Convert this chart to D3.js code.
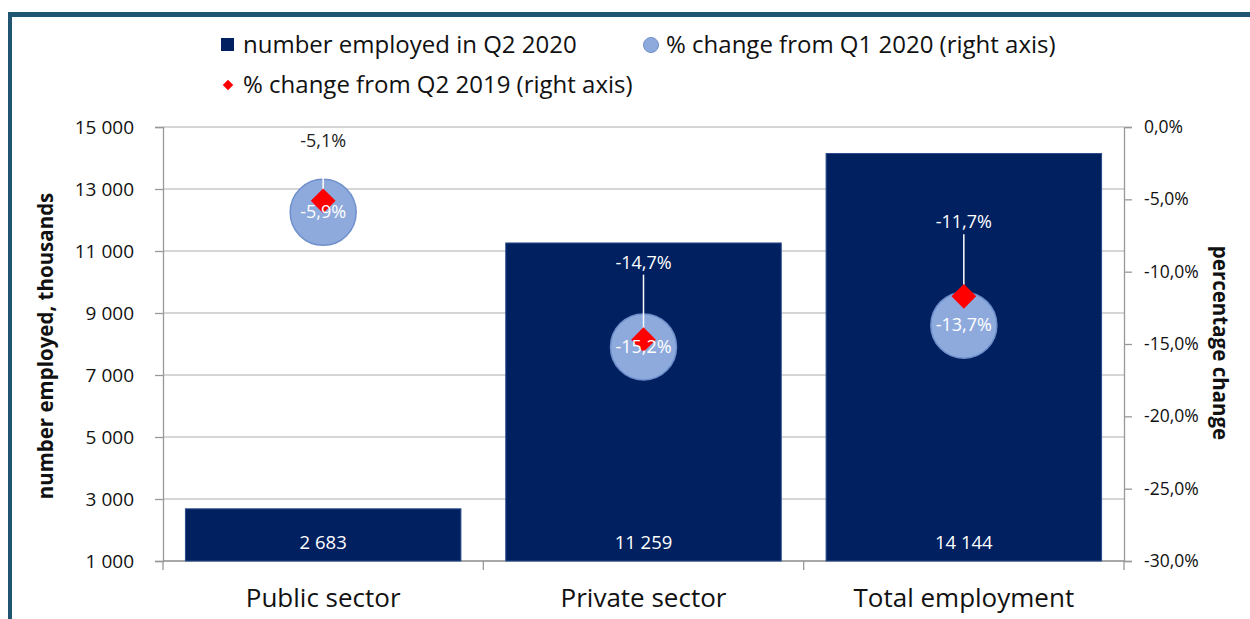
<!DOCTYPE html>
<html>
<head>
<meta charset="utf-8">
<script src="https://cdn.jsdelivr.net/npm/d3@7"></script>
<style>
  body { margin: 0; background: #fff; }
  svg text { font-family: "Open Sans", Lato, sans-serif; }
</style>
</head>
<body>
<div id="chart"></div>
<script>
// data
var categories = ["Public sector", "Private sector", "Total employment"];
var employedQ2 = [2683, 11259, 14144];          // thousands
var changeQ1 = [-5.9, -15.2, -13.7];            // % vs Q1 2020
var changeQ2y = [-5.1, -14.7, -11.7];           // % vs Q2 2019
var leftTicks = [1000, 3000, 5000, 7000, 9000, 11000, 13000, 15000];
var rightTicks = [0, -5, -10, -15, -20, -25, -30];

// label lift above the diamonds (manual placement in original)
var labelLift = [60, 77, 74];

var W = 1250, H = 619;
var m = {left: 163, right: 1124, top: 127, bottom: 561};
var navy = "#002060", frame = "#1f5570";

var svg = d3.select("#chart").append("svg").attr("width", W).attr("height", H);

// frame + title (cut off at the top like the original)
svg.append("text").attr("x", 660).attr("y", -5).attr("text-anchor", "middle")
  .attr("font-size", 21).attr("font-weight", "bold").attr("fill", "#1f4e79")
  .text("Figure: Public employment compared with private sector employment, Q2 2020");
svg.append("rect").attr("x", 8).attr("y", 12).attr("width", W).attr("height", 5).attr("fill", frame);
svg.append("rect").attr("x", 8).attr("y", 12).attr("width", 4).attr("height", H).attr("fill", frame);

var x = d3.scaleBand().domain(categories).range([m.left, m.right]).paddingInner(0.14).paddingOuter(0.07);
var yL = d3.scaleLinear().domain([1000, 15000]).range([m.bottom, m.top]);
var yR = d3.scaleLinear().domain([-30, 0]).range([m.bottom, m.top]);

var fmtN = function (v) { return d3.format(",")(v).replace(/,/g, " "); };
var fmtP = function (v) { return v.toFixed(1).replace(".", ",") + "%"; };

// gridlines
svg.append("g").selectAll("line").data(leftTicks).join("line")
  .attr("x1", m.left).attr("x2", m.right)
  .attr("y1", function (d) { return yL(d); }).attr("y2", function (d) { return yL(d); })
  .attr("stroke", "#c8c8c8").attr("stroke-width", 1.3);

// left axis
var gL = svg.append("g").attr("transform", "translate(" + m.left + ",0)")
  .call(d3.axisLeft(yL).tickValues(leftTicks).tickFormat(fmtN).tickSize(8).tickPadding(21));
// right axis
var gR = svg.append("g").attr("transform", "translate(" + m.right + ",0)")
  .call(d3.axisRight(yR).tickValues(rightTicks).tickFormat(fmtP).tickSize(8).tickPadding(12));
// bottom axis
var gB = svg.append("g").attr("transform", "translate(0," + m.bottom + ")")
  .call(d3.axisBottom(x).tickSize(0).tickPadding(28));
gB.selectAll(".tick text").attr("font-size", 26).attr("fill", "#111");
// category separators
svg.append("g").selectAll("line").data(d3.range(categories.length + 1)).join("line")
  .attr("x1", function (i) { return m.left + i * x.step(); })
  .attr("x2", function (i) { return m.left + i * x.step(); })
  .attr("y1", m.bottom).attr("y2", m.bottom + 9)
  .attr("stroke", "#999").attr("stroke-width", 1.3);

[gL, gR, gB].forEach(function (g) {
  g.select(".domain").attr("stroke", "#999").attr("stroke-width", 1.3);
  g.selectAll(".tick line").attr("stroke", "#999").attr("stroke-width", 1.3);
});
gL.selectAll(".tick text").attr("font-size", 19).attr("fill", "#111");
gR.selectAll(".tick text").attr("font-size", 17.5).attr("fill", "#111");
gB.select(".domain").remove();
svg.append("line").attr("x1", m.left).attr("x2", m.right).attr("y1", m.bottom).attr("y2", m.bottom)
  .attr("stroke", "#999").attr("stroke-width", 1.3);

// bars
svg.append("g").selectAll("rect").data(employedQ2).join("rect")
  .attr("x", function (d, i) { return x(categories[i]); })
  .attr("width", x.bandwidth())
  .attr("y", function (d) { return yL(d); })
  .attr("height", function (d) { return m.bottom - yL(d); })
  .attr("fill", navy).attr("stroke", "#2a4c8c").attr("stroke-width", 1);
svg.append("g").selectAll("text").data(employedQ2).join("text")
  .attr("x", function (d, i) { return x(categories[i]) + x.bandwidth() / 2; })
  .attr("y", m.bottom - 12)
  .attr("text-anchor", "middle").attr("font-size", 18.5).attr("fill", "#fff")
  .text(fmtN);

// circles: change from Q1 2020
var cx = function (i) { return x(categories[i]) + x.bandwidth() / 2; };
svg.append("g").selectAll("circle").data(changeQ1).join("circle")
  .attr("cx", function (d, i) { return cx(i); })
  .attr("cy", function (d) { return yR(d); })
  .attr("r", 33)
  .attr("fill", "#8eaadc").attr("stroke", "#6f90cc").attr("stroke-width", 1.5);

// leader lines for Q2 2019 labels
svg.append("g").selectAll("line").data(changeQ2y).join("line")
  .attr("x1", function (d, i) { return cx(i); }).attr("x2", function (d, i) { return cx(i); })
  .attr("y1", function (d, i) { return yR(d) - labelLift[i] + 12; })
  .attr("y2", function (d) { return yR(d); })
  .attr("stroke", "#fff").attr("stroke-width", 1.5);

// diamonds: change from Q2 2019
svg.append("g").selectAll("path").data(changeQ2y).join("path")
  .attr("transform", function (d, i) { return "translate(" + cx(i) + "," + yR(d) + ")"; })
  .attr("d", d3.symbol(d3.symbolDiamond2, 390)())
  .attr("fill", "#ff0000");

// circle labels
svg.append("g").selectAll("text").data(changeQ1).join("text")
  .attr("x", function (d, i) { return cx(i); })
  .attr("y", function (d) { return yR(d) + 6; })
  .attr("text-anchor", "middle").attr("font-size", 18).attr("fill", "#fff")
  .text(fmtP);

// diamond labels
svg.append("g").selectAll("text").data(changeQ2y).join("text")
  .attr("x", function (d, i) { return cx(i); })
  .attr("y", function (d, i) { return yR(d) - labelLift[i] + 6; })
  .attr("text-anchor", "middle").attr("font-size", 18)
  .attr("fill", function (d, i) { return yR(d) - labelLift[i] > yL(employedQ2[i]) ? "#fff" : "#222"; })
  .text(fmtP);

// axis titles
svg.append("text").attr("transform", "translate(53,346) rotate(-90)")
  .attr("text-anchor", "middle").attr("font-size", 20.5).attr("font-weight", "bold").attr("fill", "#111")
  .text("number employed, thousands");
svg.append("text").attr("transform", "translate(1213,343) rotate(90)")
  .attr("text-anchor", "middle").attr("font-size", 20.5).attr("font-weight", "bold").attr("fill", "#111")
  .text("percentage change");

// legend
var lg = svg.append("g").attr("font-size", 24).attr("fill", "#111");
lg.append("rect").attr("x", 221).attr("y", 38).attr("width", 13).attr("height", 13).attr("fill", navy);
lg.append("text").attr("x", 243).attr("y", 53).text("number employed in Q2 2020");
lg.append("circle").attr("cx", 651).attr("cy", 45).attr("r", 7.5)
  .attr("fill", "#8eaadc").attr("stroke", "#6f90cc");
lg.append("text").attr("x", 666).attr("y", 53).text("% change from Q1 2020 (right axis)");
lg.append("path").attr("transform", "translate(228,85)")
  .attr("d", d3.symbol(d3.symbolDiamond2, 70)()).attr("fill", "#ff0000");
lg.append("text").attr("x", 243).attr("y", 93).text("% change from Q2 2019 (right axis)");
</script>
</body>
</html>
